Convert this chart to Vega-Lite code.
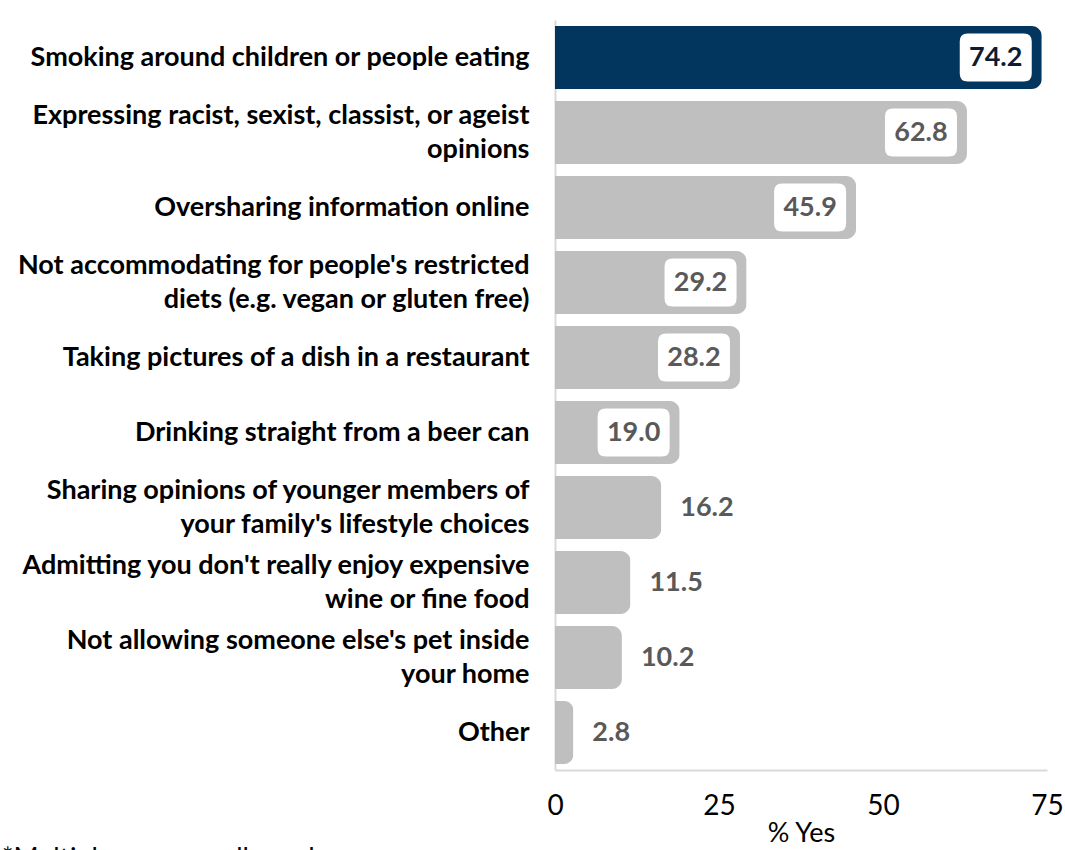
{
  "$schema": "https://vega.github.io/schema/vega-lite/v6.json",
  "autosize": "none",
  "width": 492,
  "height": 750,
  "padding": {"left": 555, "top": 20, "right": 18, "bottom": 80},
  "background": "white",
  "config": {"view": {"stroke": null}, "font": "Lato"},
  "title": {"text": "*Multiple answers allowed", "orient": "bottom", "anchor": "start", "frame": "group", "dx": -553, "offset": 0, "fontSize": 27, "fontWeight": "normal", "font": "Lato", "color": "#000000", "baseline": "top"},
  "data": {"values": [
    {"category": "Smoking around children or people eating", "value": 74.2},
    {"category": "Expressing racist, sexist, classist, or ageist opinions", "value": 62.8},
    {"category": "Oversharing information online", "value": 45.9},
    {"category": "Not accommodating for people's restricted diets (e.g. vegan or gluten free)", "value": 29.2},
    {"category": "Taking pictures of a dish in a restaurant", "value": 28.2},
    {"category": "Drinking straight from a beer can", "value": 19.0},
    {"category": "Sharing opinions of younger members of your family's lifestyle choices", "value": 16.2},
    {"category": "Admitting you don't really enjoy expensive wine or fine food", "value": 11.5},
    {"category": "Not allowing someone else's pet inside your home", "value": 10.2},
    {"category": "Other", "value": 2.8}
  ]},
  "encoding": {
    "y": {
      "field": "category", "type": "nominal", "sort": null,
      "scale": {"paddingInner": 0.16, "paddingOuter": 0.08},
      "axis": {
        "title": null, "ticks": false, "labelPadding": 26,
        "domainColor": "#d9d9d9", "domainWidth": 2,
        "labelFont": "Lato", "labelFontWeight": "bold", "labelFontSize": 27, "labelColor": "#000000",
        "labelLimit": 600, "labelLineHeight": 34,
        "labelOffset": {"condition": {"test": "length(datum.value) > 45", "value": -17}, "value": 0},
        "labelExpr": "datum.value == \"Expressing racist, sexist, classist, or ageist opinions\" ? [\"Expressing racist, sexist, classist, or ageist\", \"opinions\"] : datum.value == \"Not accommodating for people's restricted diets (e.g. vegan or gluten free)\" ? [\"Not accommodating for people's restricted\", \"diets (e.g. vegan or gluten free)\"] : datum.value == \"Sharing opinions of younger members of your family's lifestyle choices\" ? [\"Sharing opinions of younger members of\", \"your family's lifestyle choices\"] : datum.value == \"Admitting you don't really enjoy expensive wine or fine food\" ? [\"Admitting you don't really enjoy expensive\", \"wine or fine food\"] : datum.value == \"Not allowing someone else's pet inside your home\" ? [\"Not allowing someone else's pet inside\", \"your home\"] : datum.value"
      }
    },
    "x": {
      "field": "value", "type": "quantitative",
      "scale": {"domain": [0, 75], "nice": false},
      "axis": {
        "title": "% Yes", "values": [0, 25, 50, 75], "grid": false, "ticks": false,
        "domainColor": "#d9d9d9", "domainWidth": 2,
        "labelFont": "Lato", "labelFontSize": 28, "labelColor": "#000000", "labelPadding": 22,
        "labelFlush": false,
        "titleFont": "Lato", "titleFontSize": 27, "titleFontWeight": "normal", "titleColor": "#000000", "titlePadding": 0
      }
    }
  },
  "layer": [
    {
      "mark": {"type": "bar", "cornerRadiusEnd": 10},
      "encoding": {
        "color": {"condition": {"test": "datum.category == 'Smoking around children or people eating'", "value": "#03365f"}, "value": "#bfbfbf"}
      }
    },
    {
      "transform": [{"filter": "datum.value > 18"}],
      "mark": {"type": "point", "filled": true, "fill": "#ffffff", "opacity": 1, "size": 5184, "xOffset": -46,
        "shape": "M -0.78 -0.667 L 0.78 -0.667 Q 1 -0.667 1 -0.444 L 1 0.444 Q 1 0.667 0.78 0.667 L -0.78 0.667 Q -1 0.667 -1 0.444 L -1 -0.444 Q -1 -0.667 -0.78 -0.667 Z"}
    },
    {
      "transform": [{"filter": "datum.value > 18"}],
      "mark": {"type": "text", "dx": -46, "align": "center", "baseline": "middle", "font": "Lato", "fontWeight": "bold", "fontSize": 27},
      "encoding": {
        "text": {"field": "value", "type": "quantitative", "format": ".1f"},
        "color": {"condition": {"test": "datum.category == 'Smoking around children or people eating'", "value": "#0d1b33"}, "value": "#595959"}
      }
    },
    {
      "transform": [{"filter": "datum.value <= 18"}],
      "mark": {"type": "text", "dx": 19, "align": "left", "baseline": "middle", "font": "Lato", "fontWeight": "bold", "fontSize": 27, "color": "#595959"},
      "encoding": {
        "text": {"field": "value", "type": "quantitative", "format": ".1f"}
      }
    }
  ]
}
